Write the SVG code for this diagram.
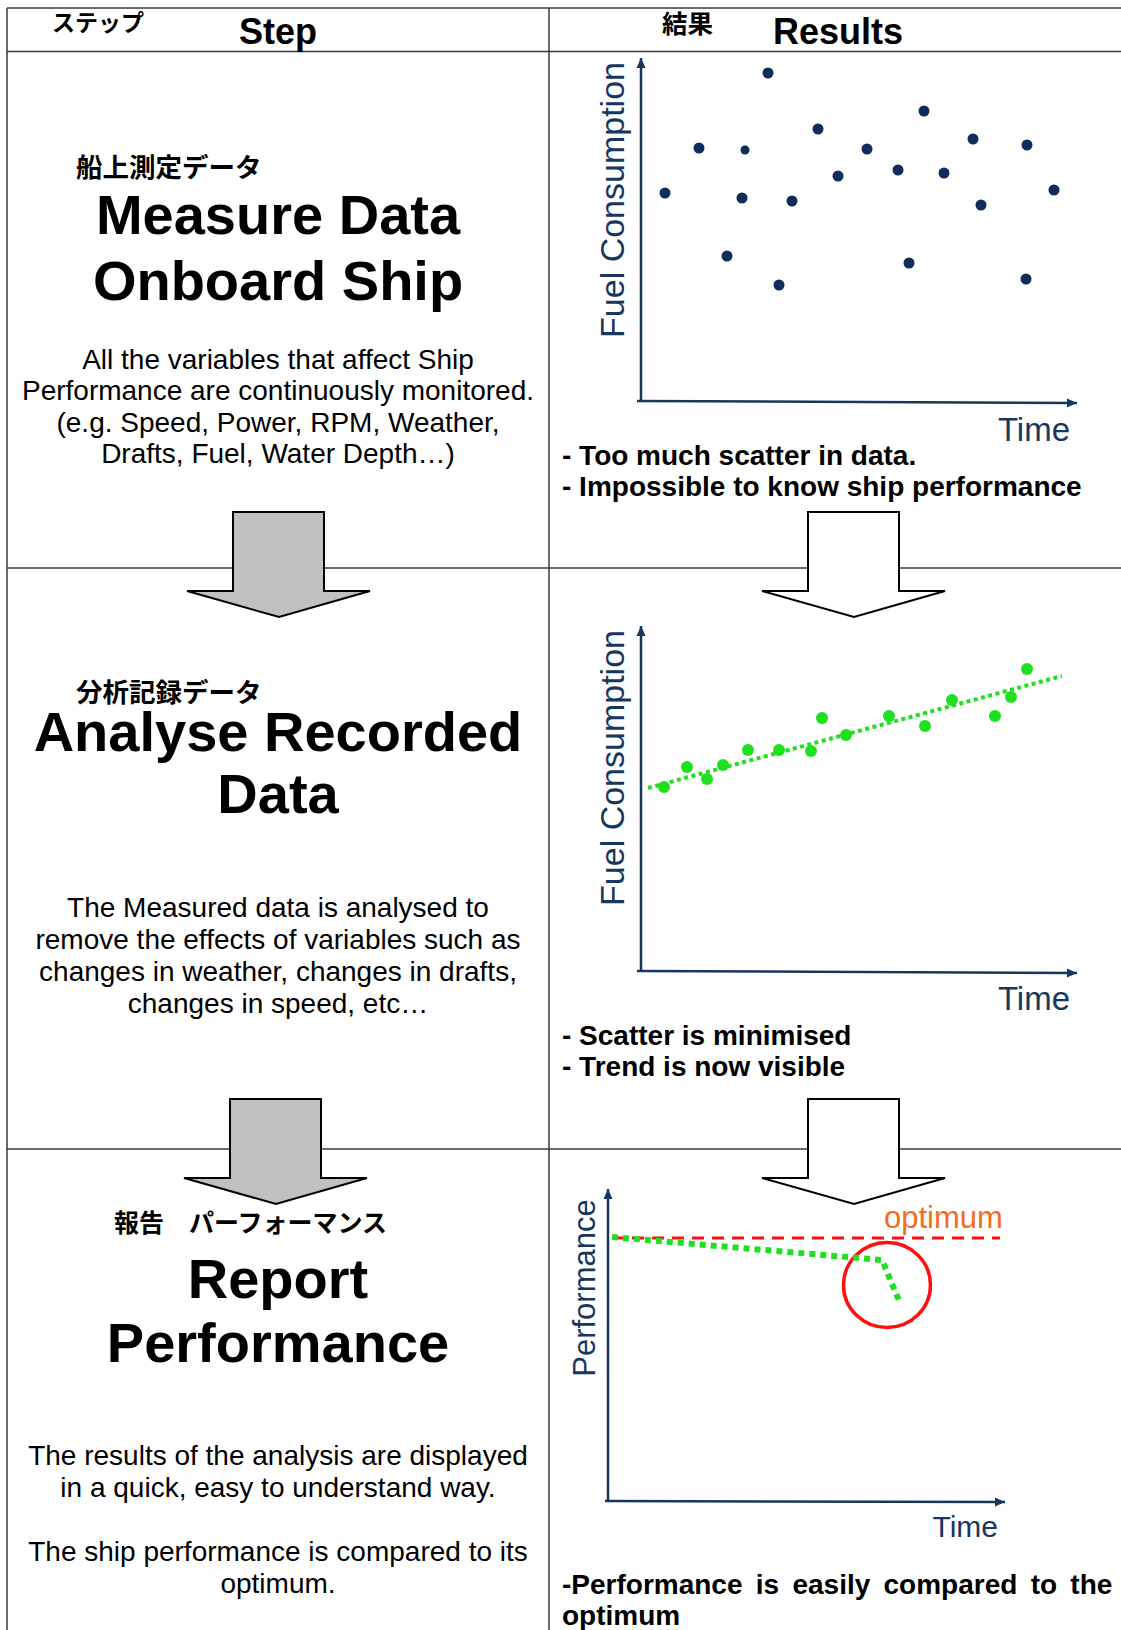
<svg xmlns="http://www.w3.org/2000/svg" width="1121" height="1630" viewBox="0 0 1121 1630">
  <style>
    .grid { stroke: #3a3a3a; stroke-width: 1.5; fill: none; }
    .jp { font-family: "Noto Sans CJK JP", "Liberation Sans", sans-serif; font-weight: bold; fill: #000; }
    .head { font-family: "Liberation Sans", Arial, sans-serif; font-weight: bold; font-size: 36px; fill: #000; }
    .title { font-family: "Liberation Sans", Arial, sans-serif; font-weight: bold; font-size: 56px; fill: #000; text-anchor: middle; }
    .body { font-family: "Liberation Sans", Arial, sans-serif; font-size: 28px; fill: #000; text-anchor: middle; }
    .note { font-family: "Liberation Sans", Arial, sans-serif; font-weight: bold; font-size: 28px; fill: #000; }
    .axislabel { font-family: "Liberation Sans", Arial, sans-serif; fill: #17375E; }
    .axis { stroke: #17375E; stroke-width: 2.5; fill: none; }
    .dot { fill: #0E2C5C; }
    .gdot { fill: #1FE01F; }
    .grey-arrow { fill: #C0C0C0; stroke: #000; stroke-width: 2; stroke-linejoin: miter; }
    .white-arrow { fill: #FFFFFF; stroke: #000; stroke-width: 2; stroke-linejoin: miter; }
  </style>
  <defs>
    <marker id="axis-head" markerUnits="userSpaceOnUse" markerWidth="12" markerHeight="10" refX="10" refY="5" orient="auto">
      <path d="M0,0.5 L10,5 L0,9.5 Z" fill="#17375E"/>
    </marker>
    <path id="down-arrow" d="M0,0 L91,0 L91,79 L137,79 L46,105 L-46,79 L0,79 Z"/>
  </defs>

  <rect x="0" y="0" width="1121" height="1630" fill="#FFFFFF"/>

  <!-- table grid -->
  <g id="grid">
    <line class="grid" x1="7" y1="8" x2="1121" y2="8"/>
    <line class="grid" x1="7" y1="51.5" x2="1121" y2="51.5"/>
    <line class="grid" x1="7" y1="568" x2="1121" y2="568"/>
    <line class="grid" x1="7" y1="1149" x2="1121" y2="1149"/>
    <line class="grid" x1="7" y1="8" x2="7" y2="1630"/>
    <line class="grid" x1="549" y1="8" x2="549" y2="1630"/>
  </g>

  <!-- column headers -->
  <g id="header-step">
    <text class="jp" x="52" y="31" font-size="23">ステップ</text>
    <text class="head" x="278" y="44" text-anchor="middle">Step</text>
  </g>
  <g id="header-results">
    <text class="jp" x="662" y="33" font-size="25.5">結果</text>
    <text class="head" x="773" y="44">Results</text>
  </g>

  <!-- step 1 -->
  <g id="step-measure">
    <text class="jp" x="76" y="177" font-size="26.5">船上測定データ</text>
    <text class="title" x="278" y="234">Measure Data</text>
    <text class="title" x="278" y="300">Onboard Ship</text>
    <text class="body" x="278" y="369">All the variables that affect Ship</text>
    <text class="body" x="278" y="400">Performance are continuously monitored.</text>
    <text class="body" x="278" y="432">(e.g. Speed, Power, RPM, Weather,</text>
    <text class="body" x="278" y="463">Drafts, Fuel, Water Depth…)</text>
  </g>

  <!-- step 2 -->
  <g id="step-analyse">
    <text class="jp" x="76" y="702" font-size="26.5">分析記録データ</text>
    <text class="title" x="278" y="751">Analyse Recorded</text>
    <text class="title" x="278" y="813">Data</text>
    <text class="body" x="278" y="917">The Measured data is analysed to</text>
    <text class="body" x="278" y="949">remove the effects of variables such as</text>
    <text class="body" x="278" y="981">changes in weather, changes in drafts,</text>
    <text class="body" x="278" y="1013">changes in speed, etc…</text>
  </g>

  <!-- step 3 -->
  <g id="step-report">
    <text class="jp" x="114" y="1232" font-size="25">報告　パーフォーマンス</text>
    <text class="title" x="278" y="1298">Report</text>
    <text class="title" x="278" y="1362">Performance</text>
    <text class="body" x="278" y="1465">The results of the analysis are displayed</text>
    <text class="body" x="278" y="1497">in a quick, easy to understand way.</text>
    <text class="body" x="278" y="1561">The ship performance is compared to its</text>
    <text class="body" x="278" y="1593">optimum.</text>
  </g>

  <!-- result 1: raw scatter -->
  <g id="result-scatter">
    <line class="axis" x1="641" y1="401" x2="641" y2="58" marker-end="url(#axis-head)"/>
    <line class="axis" x1="637" y1="401" x2="1077" y2="403" marker-end="url(#axis-head)"/>
    <text class="axislabel" font-size="34" text-anchor="middle" transform="translate(624,200) rotate(-90)">Fuel Consumption</text>
    <text class="axislabel" font-size="33" x="1070" y="441" text-anchor="end">Time</text>
    <g>
      <circle class="dot" cx="665" cy="193" r="5.5"/>
      <circle class="dot" cx="699" cy="148" r="5.5"/>
      <circle class="dot" cx="745" cy="150" r="4.5"/>
      <circle class="dot" cx="742" cy="198" r="5.5"/>
      <circle class="dot" cx="727" cy="256" r="5.5"/>
      <circle class="dot" cx="768" cy="73" r="5.5"/>
      <circle class="dot" cx="792" cy="201" r="5.5"/>
      <circle class="dot" cx="779" cy="285" r="5.5"/>
      <circle class="dot" cx="818" cy="129" r="5.5"/>
      <circle class="dot" cx="838" cy="176" r="5.5"/>
      <circle class="dot" cx="867" cy="149" r="5.5"/>
      <circle class="dot" cx="898" cy="170" r="5.5"/>
      <circle class="dot" cx="909" cy="263" r="5.5"/>
      <circle class="dot" cx="924" cy="111" r="5.5"/>
      <circle class="dot" cx="944" cy="173" r="5.5"/>
      <circle class="dot" cx="973" cy="139" r="5.5"/>
      <circle class="dot" cx="981" cy="205" r="5.5"/>
      <circle class="dot" cx="1027" cy="145" r="5.5"/>
      <circle class="dot" cx="1026" cy="279" r="5.5"/>
      <circle class="dot" cx="1054" cy="190" r="5.5"/>
    </g>
    <text class="note" x="562" y="465">- Too much scatter in data.</text>
    <text class="note" x="562" y="496">- Impossible to know ship performance</text>
  </g>

  <!-- result 2: trend -->
  <g id="result-trend">
    <line class="axis" x1="641" y1="971" x2="641" y2="626" marker-end="url(#axis-head)"/>
    <line class="axis" x1="637" y1="971" x2="1077" y2="973" marker-end="url(#axis-head)"/>
    <text class="axislabel" font-size="34" text-anchor="middle" transform="translate(624,768) rotate(-90)">Fuel Consumption</text>
    <text class="axislabel" font-size="33" x="1070" y="1010" text-anchor="end">Time</text>
    <line x1="648" y1="788" x2="1062" y2="676" stroke="#1FE01F" stroke-width="4" stroke-dasharray="4 3.5"/>
    <g>
      <circle class="gdot" cx="664" cy="787" r="6"/>
      <circle class="gdot" cx="687" cy="767" r="6"/>
      <circle class="gdot" cx="707" cy="779" r="6"/>
      <circle class="gdot" cx="723" cy="765" r="6"/>
      <circle class="gdot" cx="748" cy="750" r="6"/>
      <circle class="gdot" cx="779" cy="750" r="6"/>
      <circle class="gdot" cx="811" cy="751" r="6"/>
      <circle class="gdot" cx="822" cy="718" r="6"/>
      <circle class="gdot" cx="846" cy="735" r="6"/>
      <circle class="gdot" cx="889" cy="716" r="6"/>
      <circle class="gdot" cx="925" cy="726" r="6"/>
      <circle class="gdot" cx="952" cy="700" r="6"/>
      <circle class="gdot" cx="995" cy="716" r="6"/>
      <circle class="gdot" cx="1011" cy="697" r="6"/>
      <circle class="gdot" cx="1027" cy="669" r="6"/>
    </g>
    <text class="note" x="562" y="1045">- Scatter is minimised</text>
    <text class="note" x="562" y="1076">- Trend is now visible</text>
  </g>

  <!-- result 3: performance against optimum -->
  <g id="result-performance">
    <line class="axis" x1="608" y1="1501" x2="608" y2="1189" marker-end="url(#axis-head)"/>
    <line class="axis" x1="605" y1="1501" x2="1005" y2="1502" marker-end="url(#axis-head)"/>
    <text class="axislabel" font-size="31" text-anchor="middle" transform="translate(595,1288) rotate(-90)">Performance</text>
    <text class="axislabel" font-size="30" x="998" y="1537" text-anchor="end">Time</text>
    <text font-family="Liberation Sans, Arial, sans-serif" font-size="31" fill="#F36C21" x="884" y="1228">optimum</text>
    <line x1="612" y1="1238" x2="1000" y2="1238" stroke="#FF1010" stroke-width="3" stroke-dasharray="12 8"/>
    <ellipse cx="887" cy="1285" rx="43.5" ry="42.5" fill="none" stroke="#FF1010" stroke-width="3.5"/>
    <polyline points="612,1237 882,1260 900,1303" fill="none" stroke="#1FE01F" stroke-width="6" stroke-dasharray="6 5"/>
    <text class="note" x="562" y="1594" word-spacing="5.5">-Performance is easily compared to the</text>
    <text class="note" x="562" y="1625">optimum</text>
  </g>

  <!-- flow arrows between rows -->
  <g id="connectors">
    <use href="#down-arrow" class="grey-arrow" transform="translate(233,512)"/>
    <use href="#down-arrow" class="white-arrow" transform="translate(808,512)"/>
    <use href="#down-arrow" class="grey-arrow" transform="translate(230,1099)"/>
    <use href="#down-arrow" class="white-arrow" transform="translate(808,1099)"/>
  </g>
</svg>
